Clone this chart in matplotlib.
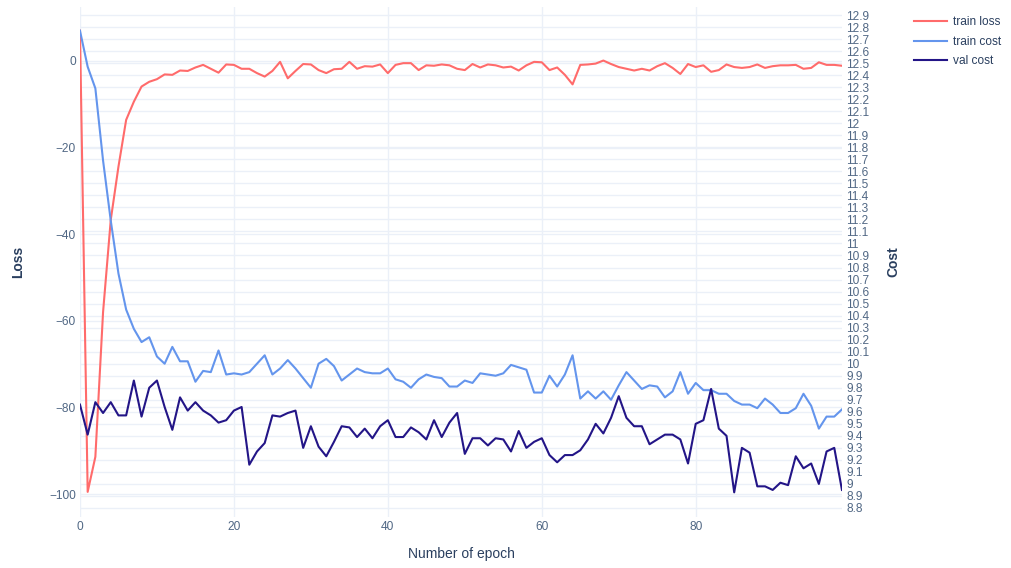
import numpy as np
import matplotlib.pyplot as plt
from matplotlib.ticker import FixedLocator, FuncFormatter
from matplotlib.transforms import blended_transform_factory

plt.rcParams['font.family'] = ['Liberation Sans', 'DejaVu Sans']

# training history, one value per epoch
epochs = np.arange(100)

train_loss = [
    7.0, -99.5, -91.4, -58.0, -36.7, -24.4, -13.6, -9.4, -5.9, -4.8,
    -4.2, -3.1, -3.2, -2.2, -2.3, -1.5, -0.9, -1.8, -2.7, -0.8,
    -0.9, -1.8, -1.8, -2.8, -3.6, -2.3, -0.2, -4.0, -2.3, -0.7,
    -0.8, -2.1, -2.8, -1.9, -1.8, -0.2, -1.8, -1.2, -1.3, -0.8,
    -2.8, -0.9, -0.5, -0.5, -2.1, -1.0, -1.1, -0.8, -1.0, -1.8,
    -2.1, -0.7, -1.5, -0.8, -1.0, -1.5, -1.3, -2.2, -1.0, -0.2,
    -0.3, -2.1, -1.5, -3.2, -5.4, -0.9, -0.8, -0.6, 0.1, -0.7,
    -1.4, -1.8, -2.2, -1.8, -2.2, -1.2, -0.5, -1.6, -3.0, -0.7,
    -1.4, -1.0, -2.5, -2.1, -0.8, -1.4, -1.6, -1.4, -0.8, -1.6,
    -1.2, -1.0, -1.0, -0.9, -1.8, -1.6, -0.3, -0.9, -0.9, -1.1,
]

train_cost = [
    12.77, 12.47, 12.29, 11.69, 11.19, 10.75, 10.45, 10.29, 10.18, 10.22,
    10.06, 10.00, 10.14, 10.02, 10.02, 9.85, 9.94, 9.93, 10.11, 9.91,
    9.92, 9.91, 9.93, 10.00, 10.07, 9.91, 9.96, 10.03, 9.96, 9.88,
    9.80, 10.00, 10.04, 9.98, 9.86, 9.91, 9.96, 9.93, 9.92, 9.92,
    9.96, 9.87, 9.85, 9.80, 9.87, 9.91, 9.89, 9.88, 9.81, 9.81,
    9.86, 9.84, 9.92, 9.91, 9.90, 9.92, 9.99, 9.97, 9.95, 9.76,
    9.76, 9.90, 9.81, 9.91, 10.07, 9.71, 9.77, 9.71, 9.77, 9.70,
    9.82, 9.93, 9.86, 9.79, 9.82, 9.81, 9.72, 9.77, 9.93, 9.75,
    9.84, 9.78, 9.78, 9.75, 9.75, 9.69, 9.66, 9.66, 9.63, 9.71,
    9.66, 9.59, 9.59, 9.63, 9.75, 9.65, 9.46, 9.56, 9.56, 9.62,
]

val_cost = [
    9.66, 9.41, 9.68, 9.59, 9.68, 9.57, 9.57, 9.86, 9.56, 9.80,
    9.86, 9.64, 9.45, 9.72, 9.61, 9.68, 9.61, 9.57, 9.51, 9.53,
    9.61, 9.64, 9.16, 9.27, 9.34, 9.57, 9.56, 9.59, 9.61, 9.30,
    9.48, 9.31, 9.23, 9.35, 9.48, 9.47, 9.39, 9.46, 9.38, 9.48,
    9.53, 9.39, 9.39, 9.47, 9.43, 9.37, 9.53, 9.39, 9.51, 9.59,
    9.25, 9.38, 9.38, 9.32, 9.38, 9.37, 9.27, 9.44, 9.30, 9.35,
    9.38, 9.24, 9.18, 9.24, 9.24, 9.28, 9.37, 9.50, 9.42, 9.55,
    9.73, 9.55, 9.48, 9.48, 9.33, 9.37, 9.41, 9.41, 9.37, 9.17,
    9.50, 9.53, 9.79, 9.46, 9.40, 8.93, 9.30, 9.26, 8.98, 8.98,
    8.95, 9.01, 8.99, 9.23, 9.13, 9.17, 9.00, 9.27, 9.30, 8.95,
]

loss_ticks = [-100, -80, -60, -40, -20, 0]
cost_ticks = np.round(np.arange(8.8, 12.95, 0.1), 1)
epoch_ticks = [0, 20, 40, 60, 80]

text_col = '#2a3f5f'
tick_col = '#506784'
grid_col = '#ebf0f8'
lw = 1.5

fig = plt.figure(figsize=(10.11, 5.68), dpi=100)
ax = fig.add_axes([0.0791, 0.0898, 0.7537, 0.8979])
ax2 = ax.twinx()

ax.set_xlim(0, 99)
ax.set_ylim(-105.3, 12.47)
ax2.set_ylim(8.725, 12.967)

# grid: x and left axis from ax, right axis lines mapped through ax2's scale
ax.set_axisbelow(True)
ax.grid(True, color=grid_col, linewidth=1)
trans = blended_transform_factory(ax.transAxes, ax2.transData)
for v in cost_ticks:
    ax.plot([0, 1], [v, v], transform=trans, color=grid_col, linewidth=1, zorder=0.5)

l1, = ax.plot(epochs, train_loss, color='#ff6b6b', linewidth=lw, label='train loss')
l2, = ax2.plot(epochs, train_cost, color='#6495ed', linewidth=lw, label='train cost')
l3, = ax2.plot(epochs, val_cost, color='#231587', linewidth=lw, label='val cost')

ax.xaxis.set_major_locator(FixedLocator(epoch_ticks))
ax.yaxis.set_major_locator(FixedLocator(loss_ticks))
ax2.yaxis.set_major_locator(FixedLocator(cost_ticks))
ax2.yaxis.set_major_formatter(FuncFormatter(lambda v, p: '%g' % round(v, 1)))

for a in (ax, ax2):
    for s in a.spines.values():
        s.set_visible(False)
    a.tick_params(length=0, labelsize=8.6, labelcolor=tick_col, pad=3)
ax.tick_params(axis='x', pad=3)

ax.set_xlabel('Number of epoch', fontsize=10, color=text_col, labelpad=10)
ax.set_ylabel('Loss', fontsize=10, color=text_col, fontweight='bold', labelpad=17)
ax2.set_ylabel('Cost', fontsize=10, color=text_col, fontweight='bold', labelpad=12)

fig.legend(handles=[l1, l2, l3], loc='upper left', bbox_to_anchor=(0.893, 0.99),
           frameon=False, fontsize=8.6, handlelength=2.8, labelspacing=0.62,
           handletextpad=0.5, labelcolor=text_col)

fig.savefig('out.png', dpi=100, facecolor='white')
